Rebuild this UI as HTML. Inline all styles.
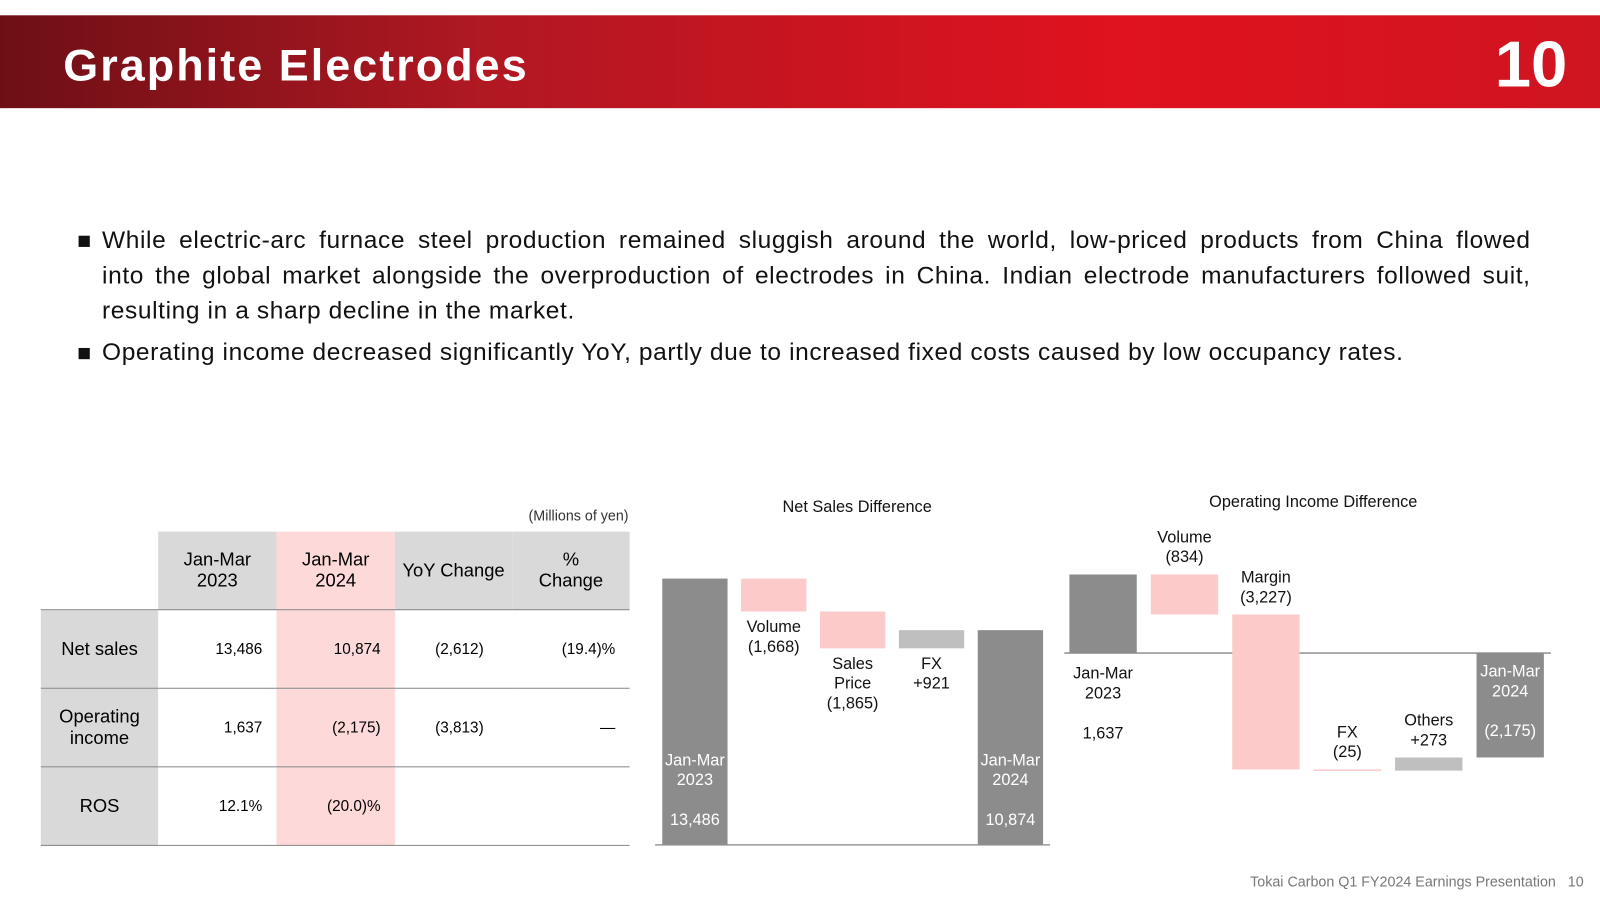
<!DOCTYPE html>
<html><head><meta charset="utf-8"><style>
body{margin:0;width:1600px;height:900px;background:#fff;font-family:"Liberation Sans",sans-serif;position:relative;overflow:hidden}
#wrap{position:absolute;left:0;top:0;width:1568px;height:882px;transform:scale(1.020408);transform-origin:0 0}
.hdr{position:absolute;left:0;top:15px;width:1568px;height:91px;background:linear-gradient(90deg,#6e0f16 0%,#b01822 30%,#e0121f 70%,#cf1520 100%)}
.title{position:absolute;left:62px;top:40px;color:#fff;font-size:44px;font-weight:bold;letter-spacing:2px}
.pg{position:absolute;right:32px;top:26px;color:#fff;font-size:64px;font-weight:bold}
.bul{position:absolute;left:100px;width:1400px;font-size:24px;line-height:34.5px;color:#111;letter-spacing:0.6px}
.ln{text-align:justify;text-align-last:justify;white-space:nowrap;overflow:visible}
.sq{position:absolute;left:-23px;top:12px;width:11px;height:11px;background:#111}
table{position:absolute;left:40px;top:521px;border-collapse:collapse;font-size:15px}
td{height:76px;text-align:center;padding:0;border-bottom:1px solid #888}
.num{text-align:right;padding-right:14px}
.foot{position:absolute;right:16px;top:856px;font-size:14px;color:#777}
</style></head><body>
<div id="wrap">
<div class="hdr"></div>
<div class="title">Graphite Electrodes</div>
<div class="pg">10</div>
<div class="bul" style="top:219px"><span class="sq"></span>
<div class="ln">While electric-arc furnace steel production remained sluggish around the world, low-priced products from China flowed</div>
<div class="ln">into the global market alongside the overproduction of electrodes in China. Indian electrode manufacturers followed suit,</div>
<div>resulting in a sharp decline in the market.</div></div>
<div class="bul" style="top:329px"><span class="sq"></span>Operating income decreased significantly YoY, partly due to increased fixed costs caused by low occupancy rates.</div>
<div style="position:absolute;left:470px;top:497px;width:146px;text-align:right;font-size:14px;color:#333">(Millions of yen)</div>
<table>
<tr><td style="width:115px;border-bottom:1px solid #888"></td><td style="width:116px;background:#d9d9d9;font-size:18px">Jan-Mar<br>2023</td><td style="width:116px;background:#fdd9d9;font-size:18px">Jan-Mar<br>2024</td><td style="width:115px;background:#d9d9d9;font-size:18px">YoY Change</td><td style="width:115px;background:#d9d9d9;font-size:18px">%<br>Change</td></tr>
<tr><td style="background:#d9d9d9;font-size:18px">Net sales</td><td class="num">13,486</td><td class="num" style="background:#fdd9d9">10,874</td><td class="num" style="padding-right:28px">(2,612)</td><td class="num">(19.4)%</td></tr>
<tr><td style="background:#d9d9d9;font-size:18px">Operating<br>income</td><td class="num">1,637</td><td class="num" style="background:#fdd9d9">(2,175)</td><td class="num" style="padding-right:28px">(3,813)</td><td class="num">—</td></tr>
<tr><td style="background:#d9d9d9;font-size:18px">ROS</td><td class="num">12.1%</td><td class="num" style="background:#fdd9d9">(20.0)%</td><td></td><td></td></tr>
</table>
<svg id="ch" width="1568" height="882" style="position:absolute;left:0;top:0"></svg>
<div class="foot">Tokai Carbon Q1 FY2024 Earnings Presentation &nbsp;&nbsp;10</div>
</div>
<script>
const nsCategories=["Jan-Mar 2023","Volume","Sales Price","FX","Jan-Mar 2024"];
const nsValues=[13486,-1668,-1865,921,10874];
const nsLabels=["13,486","(1,668)","(1,865)","+921","10,874"];
const oiCategories=["Jan-Mar 2023","Volume","Margin","FX","Others","Jan-Mar 2024"];
const oiValues=[1637,-834,-3227,-25,273,-2175];
const oiLabels=["1,637","(834)","(3,227)","(25)","+273","(2,175)"];
const NS='http://www.w3.org/2000/svg',svg=document.getElementById('ch');
function mk(t,a,txt){const e=document.createElementNS(NS,t);for(const k in a)e.setAttribute(k,a[k]);if(txt!=null)e.textContent=txt;svg.appendChild(e);return e;}
function text(x,y,lines,fill,name){const t=mk('text',{x:x,y:y,'text-anchor':'middle','font-size':16,fill:fill});


lines.forEach((l,i)=>{const s=document.createElementNS(NS,'tspan');s.setAttribute('x',x);s.setAttribute('dy',i?19.5:0);s.textContent=l===''?'\u00a0':l;t.appendChild(s);});}
function lines(cat,lab){const w=cat.split(' ');if(cat.startsWith('Jan'))return [w[0],w[1],'',lab];if(cat==='Sales Price')return ['Sales','Price',lab];return [cat,lab];}
function waterfall(cats,vals,labs,x0,step,bw,zeroY,scale,axX0,axX1,mode,tag){
 const y=v=>zeroY-v*scale;
 mk('line',{x1:axX0,x2:axX1,y1:zeroY,y2:zeroY,stroke:'#999','stroke-width':1.5});
 let run=0;
 cats.forEach((c,i)=>{
  const v=vals[i],tot=(i===0||i===cats.length-1);let a,b;
  if(tot){a=0;b=v;run=v;}else{a=run;b=run+v;run=b;}
  const top=Math.min(y(a),y(b)),h=Math.max(1.5,Math.abs(y(a)-y(b)));
  const fill=tot?'#8c8c8c':(v<0?'#fdcaca':'#bfbfbf');
  const x=x0+i*step;
  const r=mk('rect',{x:x,y:top,width:bw,height:h,fill:fill});
  
  
  const cx=x+bw/2,L=lines(c,labs[i]),m=mode[i];
  if(m==='in')text(cx,top+h-78,L,'#fff',tag+'-label-'+i);
  else if(m==='inzero')text(cx,zeroY+23,L,'#fff',tag+'-label-'+i);
  else if(m==='below')text(cx,top+h+20,L,'#111',tag+'-label-'+i);
  else if(m==='belowzero')text(cx,zeroY+25,L,'#111',tag+'-label-'+i);
  else text(cx,top-12-(L.length-1)*19.5,L,'#111',tag+'-label-'+i);
 });
}
mk('text',{x:840,y:502,'text-anchor':'middle','font-size':16,fill:'#111'},'Net Sales Difference');
mk('text',{x:1287,y:497,'text-anchor':'middle','font-size':16,fill:'#111'},'Operating Income Difference');
waterfall(nsCategories,nsValues,nsLabels,649,77.3,64,828,261/13486,642,1029,['in','below','below','below','in'],'ns');
waterfall(oiCategories,oiValues,oiLabels,1048,79.8,66,640,77/1637,1043,1520,['belowzero','above','above','above','above','inzero'],'oi');
</script>
</body></html>
